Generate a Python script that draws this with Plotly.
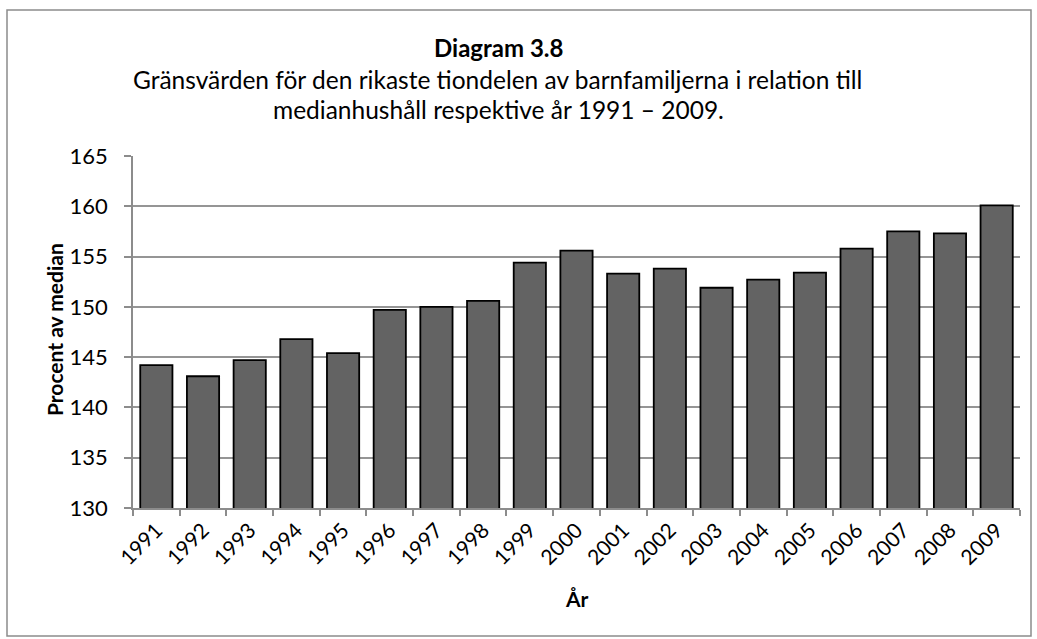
import plotly.graph_objects as go

years = [str(y) for y in range(1991, 2010)]
values = [144.2, 143.1, 144.7, 146.8, 145.4, 149.7, 150.0, 150.6, 154.4, 155.6,
          153.3, 153.8, 151.9, 152.7, 153.4, 155.8, 157.5, 157.3, 160.1]
y_ticks = [130, 135, 140, 145, 150, 155, 160, 165]

title = "Diagram 3.8"
subtitle1 = "Gränsvärden för den rikaste tiondelen av barnfamiljerna i relation till"
subtitle2 = "medianhushåll respektive år 1991 – 2009."
x_title = "År"
y_title = "Procent av median"

W, H = 1037, 639
L, R, T, B = 133, 17, 156, 131
pw, ph = W - L - R, H - T - B

def px(x):
    return (x - L) / pw

def py(y):
    return (H - B - y) / ph

FONT = "Lato, 'Open Sans', sans-serif"

fig = go.Figure(go.Bar(
    x=years, y=values,
    marker=dict(color="#636363", line=dict(color="#000000", width=1.8)),
))

fig.update_layout(
    width=W, height=H,
    margin=dict(l=L, r=R, t=T, b=B, autoexpand=False),
    paper_bgcolor="white", plot_bgcolor="white",
    bargap=0.31,
    showlegend=False,
    font=dict(family=FONT, color="#000000", size=16),
    xaxis=dict(
        type="category", tickangle=-45, showgrid=False,
        showline=True, linecolor="#8c8c8c", linewidth=1.5,
        ticks="outside", tickcolor="#8c8c8c", ticklen=6, tickwidth=1.5,
        tickson="boundaries", tickfont=dict(size=21, family=FONT),
    ),
    yaxis=dict(
        range=[130, 165], tickvals=y_ticks, showgrid=True,
        gridcolor="#959595", gridwidth=1.6,
        showline=True, linecolor="#8c8c8c", linewidth=1.5,
        ticks="outside", tickcolor="#8c8c8c", ticklen=7, tickwidth=1.5,
        ticklabelstandoff=12,
        tickfont=dict(size=22, family=FONT), zeroline=False,
    ),
    shapes=[dict(type="rect", xref="paper", yref="paper",
                 x0=px(7), x1=px(1031), y0=py(636), y1=py(10),
                 line=dict(color="#8c8c8c", width=1.5), fillcolor="rgba(0,0,0,0)",
                 layer="below")],
    annotations=[
        dict(text="<b>" + title + "</b>", x=px(498), y=py(47), xref="paper", yref="paper",
             showarrow=False, font=dict(size=24, family=FONT), xanchor="center", yanchor="middle"),
        dict(text=subtitle1, x=px(497), y=py(79), xref="paper", yref="paper",
             showarrow=False, font=dict(size=24.5, family=FONT), xanchor="center", yanchor="middle"),
        dict(text=subtitle2, x=px(498), y=py(109), xref="paper", yref="paper",
             showarrow=False, font=dict(size=24.5, family=FONT), xanchor="center", yanchor="middle"),
        dict(text="<b>" + x_title + "</b>", x=px(577), y=py(598), xref="paper", yref="paper",
             showarrow=False, font=dict(size=21, family=FONT), xanchor="center", yanchor="middle"),
        dict(text="<b>" + y_title + "</b>", x=px(54), y=py(330), xref="paper", yref="paper",
             showarrow=False, font=dict(size=21, family=FONT), xanchor="center", yanchor="middle",
             textangle=-90),
    ],
)

fig.write_html("out.html",
               config={"displayModeBar": False},
               post_script="document.body.style.margin='0';document.body.style.overflow='hidden';")
